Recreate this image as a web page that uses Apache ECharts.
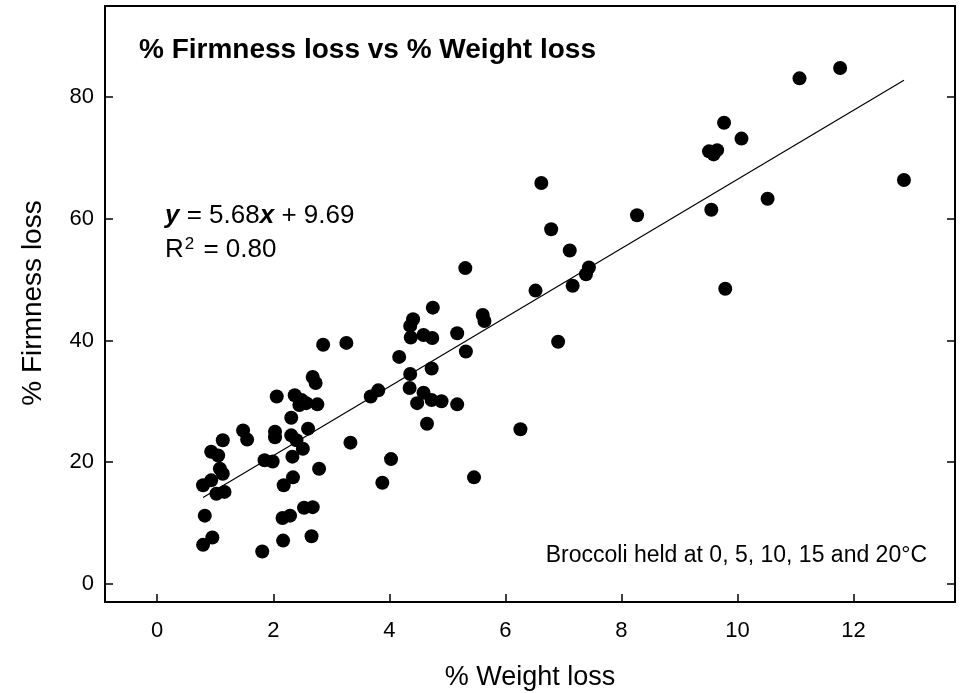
<!DOCTYPE html>
<html><head><meta charset="utf-8">
<script src="https://cdn.jsdelivr.net/npm/echarts@6/dist/echarts.min.js"></script>
<style>html,body{margin:0;padding:0;background:#fff}#c{width:961px;height:693px}</style>
</head><body><div id="c"></div>
<script>
const weightLoss = [0.79,0.95,1.81,2.17,2.66,0.82,2.16,2.29,2.53,2.68,0.79,0.93,1.02,1.16,1.08,1.13,2.18,2.34,2.79,0.93,1.05,1.85,1.99,2.33,2.51,1.13,1.48,1.55,2.03,2.03,2.31,2.40,2.60,2.31,2.06,2.37,2.49,2.57,2.45,2.76,2.68,2.73,2.86,3.26,3.33,3.88,4.03,3.68,3.81,4.17,4.35,4.36,4.59,4.48,4.73,4.90,5.17,4.65,4.73,4.37,4.59,4.74,4.36,4.41,4.75,5.17,5.32,5.61,5.64,5.31,5.46,6.26,6.52,6.62,6.79,6.91,7.11,7.16,7.39,7.44,8.27,9.55,9.79,10.52,9.51,9.59,9.65,9.77,10.07,11.07,11.77,12.87];
const firmnessLoss = [6.4,7.6,5.3,7.1,7.8,11.2,10.8,11.2,12.5,12.6,16.2,17.0,14.8,15.1,18.9,18.1,16.2,17.5,18.9,21.7,21.1,20.3,20.1,20.9,22.2,23.6,25.2,23.7,25.0,24.1,24.4,23.6,25.5,27.3,30.8,31.0,30.2,29.7,29.4,29.5,34.0,33.0,39.3,39.6,23.2,16.6,20.5,30.8,31.8,37.3,32.2,34.5,31.4,29.7,30.2,30.0,29.5,26.3,35.4,40.5,40.9,40.4,42.4,43.5,45.4,41.2,38.2,44.2,43.2,51.9,17.5,25.4,48.2,65.9,58.3,39.8,54.8,49.0,50.9,52.0,60.6,61.5,48.5,63.3,71.1,70.6,71.3,75.8,73.2,83.1,84.8,66.4];
const xTicks = [0,2,4,6,8,10,12];
const yTicks = [0,20,40,60,80];
const slope = 5.68, intercept = 9.69, rSquared = '0.80';
const titleText = '% Firmness loss vs % Weight loss';
const xName = '% Weight loss', yName = '% Firmness loss';
const noteText = 'Broccoli held at 0, 5, 10, 15 and 20°C';

const FONT = '"Liberation Sans", Arial, sans-serif';
const pts = weightLoss.map((x, i) => [x, firmnessLoss[i]]);
const xMin = Math.min(...weightLoss), xMax = Math.max(...weightLoss);
const fitLine = [[xMin, slope * xMin + intercept], [xMax, slope * xMax + intercept]];

const chart = echarts.init(document.getElementById('c'), null, {renderer: 'canvas'});
const tickStyle = {color: '#000', width: 1.5};
chart.setOption({
  animation: false,
  backgroundColor: '#fff',
  grid: {left: 105, right: 6, top: 6, bottom: 91, show: true, borderColor: '#000', borderWidth: 2, backgroundColor: 'transparent'},
  xAxis: {
    type: 'value', min: -0.9, max: 13.75,
    axisLine: {show: true, onZero: false, lineStyle: {color: '#000', width: 2}},
    axisTick: {show: true, inside: true, length: 8, lineStyle: tickStyle, customValues: xTicks},
    axisLabel: {color: '#000', fontSize: 22, fontFamily: FONT, margin: 18, customValues: xTicks},
    splitLine: {show: false}
  },
  yAxis: [{
    type: 'value', min: -3, max: 95, position: 'left',
    axisLine: {show: true, onZero: false, lineStyle: {color: '#000', width: 2}},
    axisTick: {show: true, inside: true, length: 8, lineStyle: tickStyle, customValues: yTicks},
    axisLabel: {color: '#000', fontSize: 22, fontFamily: FONT, margin: 11, customValues: yTicks},
    splitLine: {show: false}
  }, {
    type: 'value', min: -3, max: 95, position: 'right',
    axisLine: {show: true, onZero: false, lineStyle: {color: '#000', width: 2}},
    axisTick: {show: true, inside: true, length: 8, lineStyle: tickStyle, customValues: yTicks},
    axisLabel: {show: false},
    splitLine: {show: false}
  }],
  series: [{
    type: 'scatter', data: pts, symbol: 'circle', symbolSize: 14,
    itemStyle: {color: '#000', opacity: 1}, silent: true, z: 3
  }, {
    type: 'line', data: fitLine, symbol: 'none', silent: true, z: 2,
    lineStyle: {color: '#000', width: 1.2}
  }],
  graphic: [
    {type: 'text', left: 139, top: 36, style: {text: titleText, font: 'bold 28px ' + FONT, fill: '#000'}},
    {type: 'text', x: 165, y: 216, style: {
      text: '{b|y} = ' + slope.toFixed(2) + '{b|x} + ' + intercept.toFixed(2),
      fontSize: 26, fontFamily: FONT, fill: '#000', verticalAlign: 'middle',
      rich: {b: {fontSize: 26, fontFamily: FONT, fontWeight: 'bold', fontStyle: 'italic'}}
    }},
    {type: 'text', x: 165, y: 250, style: {
      text: 'R{s|2} = ' + rSquared,
      fontSize: 26, fontFamily: FONT, fill: '#000', verticalAlign: 'middle',
      rich: {s: {fontSize: 17, fontFamily: FONT, verticalAlign: 'top', padding: [0, 2, 12, 1]}}
    }},
    {type: 'text', x: 927, y: 556, style: {text: noteText, fontSize: 23, fontFamily: FONT, fill: '#000', align: 'right', verticalAlign: 'middle'}},
    {type: 'text', x: 530, y: 678, style: {text: xName, fontSize: 27, fontFamily: FONT, fill: '#000', align: 'center', verticalAlign: 'middle'}},
    {type: 'text', x: 33, y: 303, rotation: Math.PI / 2, style: {text: yName, fontSize: 28, fontFamily: FONT, fill: '#000', align: 'center', verticalAlign: 'middle'}}
  ]
});
</script>
</body></html>
